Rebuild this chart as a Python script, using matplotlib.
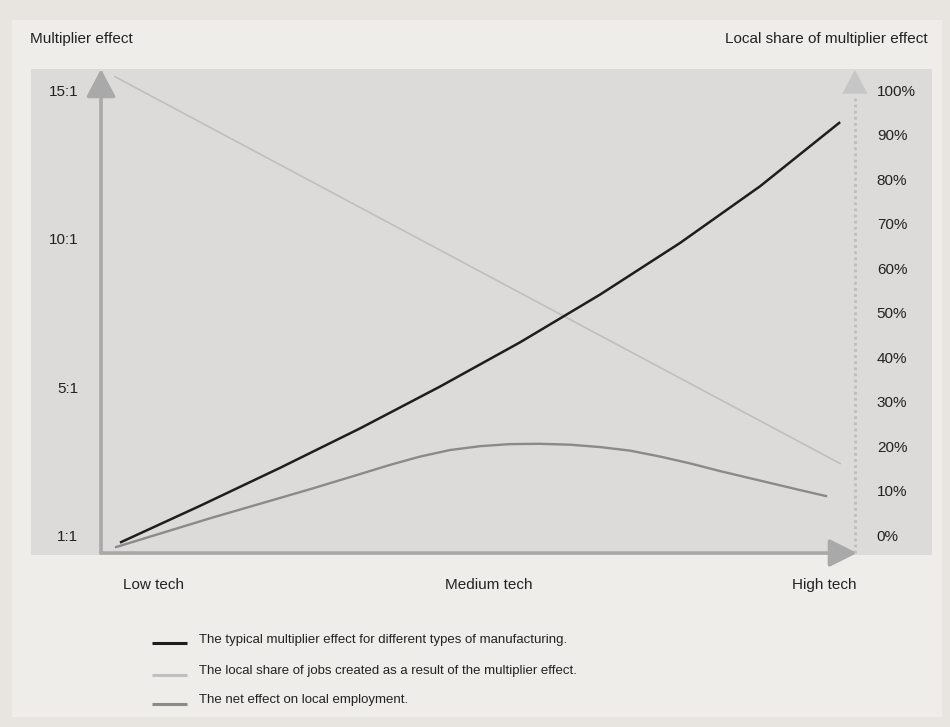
import matplotlib
matplotlib.use('Agg')
import matplotlib.pyplot as plt
from matplotlib.patches import Rectangle
from matplotlib.lines import Line2D

plt.rcParams['font.family'] = ['Liberation Sans', 'DejaVu Sans']

# data (x: 0 = origin of the axis, 100 = arrow tip)
mult_x = [2.51, 13.1, 23.68, 34.26, 44.84, 55.42, 66.01, 76.59, 87.17, 97.75]
mult_y = [-0.19, 1.05, 2.33, 3.66, 5.07, 6.56, 8.17, 9.91, 11.82, 13.98]

share_x = [1.85, 97.75]
share_pct = [103.4, 16.5]

net_x = [1.85, 14.42, 27.65, 34.26, 38.23, 42.20, 46.16, 50.13, 54.10, 58.07,
         62.04, 66.01, 69.97, 73.94, 77.91, 81.88, 87.17, 92.46, 96.03]
net_y = [-0.35, 0.63, 1.61, 2.12, 2.43, 2.71, 2.93, 3.06, 3.13, 3.14,
         3.11, 3.03, 2.91, 2.71, 2.48, 2.22, 1.90, 1.58, 1.37]

left_ticks = [0, 5, 10, 15]
left_labels = ['1:1', '5:1', '10:1', '15:1']
right_ticks = [0, 10, 20, 30, 40, 50, 60, 70, 80, 90, 100]
right_labels = ['%d%%' % t for t in right_ticks]

cat_x = [6.9, 51.3, 95.6]
cat_labels = ['Low tech', 'Medium tech', 'High tech']

legend_labels = ['The typical multiplier effect for different types of manufacturing.',
                 'The local share of jobs created as a result of the multiplier effect.',
                 'The net effect on local employment.']

c_mult = '#1e1e1e'
c_share = '#bfbfbf'
c_net = '#8a8a8a'
c_axis = '#a9a9a9'
c_text = '#222222'

W, H = 950, 727
fig = plt.figure(figsize=(W / 100, H / 100), dpi=100)
fig.patch.set_facecolor('#e8e5e1')
fig.patches.append(Rectangle((12 / W, 1 - 717 / H), 930 / W, 697 / H,
                             transform=fig.transFigure, facecolor='#efedea',
                             edgecolor='none', zorder=-5))

ax = fig.add_axes([31 / W, 1 - 555 / H, 901 / W, 486 / H])
xlo, xhi = -9.26, 109.9
ylo, yhi = -0.607, 15.77
ax.set_xlim(xlo, xhi)
ax.set_ylim(ylo, yhi)
ax.set_xticks([])
ax.set_yticks([])
for s in ax.spines.values():
    s.set_visible(False)

# right scale: 0% sits on 1:1, 100% on 15:1
ax2 = ax.twinx()
ax2.set_ylim(ylo * 100 / 15, yhi * 100 / 15)
ax2.set_yticks([])
for s in ax2.spines.values():
    s.set_visible(False)
ax.set_zorder(ax2.get_zorder() + 1)
ax.patch.set_visible(False)
ax2.patch.set_visible(True)
ax2.patch.set_facecolor('#dcdbda')

# axes arrows
base = -0.54
ax.annotate('', xy=(100.0, base), xytext=(0, base),
            arrowprops=dict(arrowstyle='-|>,head_length=1.7,head_width=0.85',
                            color=c_axis, lw=2.6, shrinkA=0, shrinkB=0), zorder=2)
ax.annotate('', xy=(0, yhi), xytext=(0, base),
            arrowprops=dict(arrowstyle='-|>,head_length=1.7,head_width=0.9',
                            color=c_axis, lw=2.6, shrinkA=0, shrinkB=0), zorder=2)
ax.plot([99.7, 99.7], [base, 14.9], color='#bdbdbd', lw=2, ls=(0, (1, 1.2)), zorder=2)
ax.annotate('', xy=(99.7, yhi - 0.03), xytext=(99.7, 14.9),
            arrowprops=dict(arrowstyle='-|>,head_length=1.7,head_width=0.9',
                            color='#c6c6c6', lw=0.1, shrinkA=0, shrinkB=0), zorder=2)

# series
ax2.plot(share_x, share_pct, color=c_share, lw=1.2, zorder=3)
ax.plot(net_x, net_y, color=c_net, lw=1.7, solid_capstyle='butt', zorder=4)
ax.plot(mult_x, mult_y, color=c_mult, lw=1.8, solid_capstyle='butt', zorder=5)

# tick labels
for t, lab in zip(left_ticks, left_labels):
    ax.text(-3.0, t, lab, ha='right', va='center', fontsize=11, color=c_text)
for t, lab in zip(right_ticks, right_labels):
    ax2.text(102.6, t, lab, ha='left', va='center', fontsize=11, color=c_text)
for x, lab in zip(cat_x, cat_labels):
    ax.text(x, -1.62, lab, ha='center', va='center', fontsize=11, color=c_text, clip_on=False)

# axis titles
fig.text(30 / W, 1 - 39 / H, 'Multiplier effect', ha='left', va='center', fontsize=11, color=c_text)
fig.text(928 / W, 1 - 39 / H, 'Local share of multiplier effect', ha='right', va='center',
         fontsize=11, color=c_text)

# legend
line_y = [642.7, 675, 704]
text_y = [640, 671, 700]
for lab, c, ly, ty in zip(legend_labels, [c_mult, c_share, c_net], line_y, text_y):
    fig.lines.append(Line2D([152 / W, 187 / W], [1 - ly / H, 1 - ly / H],
                            transform=fig.transFigure, color=c, lw=2.2,
                            solid_capstyle='butt'))
    fig.text(199 / W, 1 - ty / H, lab, ha='left', va='center', fontsize=9.5, color=c_text)

fig.savefig('out.png', dpi=100, facecolor=fig.get_facecolor())
